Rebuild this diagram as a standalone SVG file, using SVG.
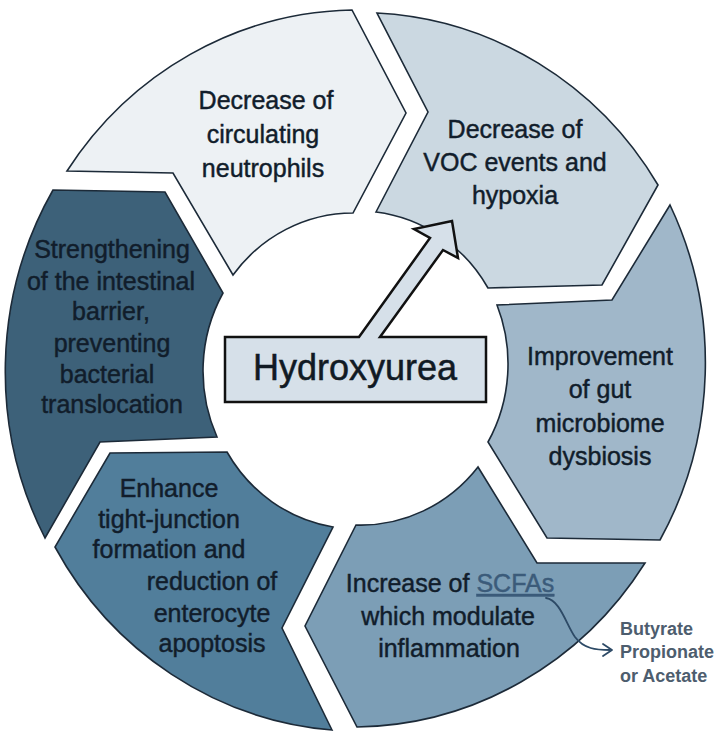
<svg xmlns="http://www.w3.org/2000/svg" width="720" height="738" viewBox="0 0 720 738">
<style>
.seg{stroke:#1c2a38;stroke-width:1.6;stroke-linejoin:miter}
.lbl{font-family:"Liberation Sans",Arial,sans-serif;font-size:25px;fill:#111d2b;stroke:#111d2b;stroke-width:0.45;text-anchor:middle}
.side{font-family:"Liberation Sans",Arial,sans-serif;font-size:18px;font-weight:bold;fill:#4d5d6e}
</style>
<rect width="720" height="738" fill="#ffffff"/>
<g id="seg1">
<path class="seg" fill="#edf1f4" d="M67,171 A350,360 0 0 1 352,10 L406,113 L353,213 A151,157 0 0 0 233,275 L173,173 Z"/>
<text class="lbl"><tspan x="266" y="109">Decrease of</tspan><tspan x="263" y="143">circulating</tspan><tspan x="263" y="177">neutrophils</tspan></text>
</g>
<g id="seg2">
<path class="seg" fill="#cbd8e1" d="M377,13 A350,360 0 0 1 658,185 L602,285 L488,288 A151,157 0 0 0 376,212 L428,112 Z"/>
<text class="lbl"><tspan x="515" y="138">Decrease of</tspan><tspan x="515" y="171">VOC events and</tspan><tspan x="515" y="204">hypoxia</tspan></text>
</g>
<g id="seg3">
<path class="seg" fill="#a0b7c9" d="M670,205 A350,360 0 0 1 660,540 L547,538 L488,442 A151,157 0 0 0 497,305 L612,300 Z"/>
<text class="lbl"><tspan x="600" y="365">Improvement</tspan><tspan x="600" y="398">of gut</tspan><tspan x="600" y="432">microbiome</tspan><tspan x="600" y="465">dysbiosis</tspan></text>
</g>
<g id="seg4">
<path class="seg" fill="#7c9eb6" d="M645,563 A350,360 0 0 1 357,727 L305,626 L356,525 A151,157 0 0 0 478,467 L537,563 Z"/>
<text class="lbl"><tspan x="450" y="592">Increase of <tspan fill="#3b5b7a" stroke="#3b5b7a" text-decoration="underline">SCFAs</tspan></tspan><tspan x="448" y="625">which modulate</tspan><tspan x="449" y="657">inflammation</tspan></text>
</g>
<g id="seg5">
<path class="seg" fill="#517e9b" d="M332,730 A350,360 0 0 1 55,547 L110,453 L227,452 A151,157 0 0 0 333,527 L282,628 Z"/>
<text class="lbl"><tspan x="169" y="497">Enhance</tspan><tspan x="169" y="528">tight-junction</tspan><tspan x="169" y="558">formation and</tspan><tspan x="212" y="590">reduction of</tspan><tspan x="212" y="622">enterocyte</tspan><tspan x="212" y="652">apoptosis</tspan></text>
</g>
<g id="seg6">
<path class="seg" fill="#3d6179" d="M45,538 A350,360 0 0 1 53,190 L165,192 L223,293 A151,157 0 0 0 217,437 L100,442 Z"/>
<text class="lbl"><tspan x="112" y="258">Strengthening</tspan><tspan x="111" y="290">of the intestinal</tspan><tspan x="111" y="320">barrier,</tspan><tspan x="112" y="352">preventing</tspan><tspan x="107" y="383">bacterial</tspan><tspan x="112" y="413">translocation</tspan></text>
</g>
<g id="hydroxyurea">
<path fill="#d6e0e9" stroke="#111111" stroke-width="2.5" stroke-linejoin="miter" d="M225,337 L359,337 L430,238 L414,229 L452,221 L458,258 L443,250 L380,337 L486,337 L486,402 L225,402 Z"/>
<text x="355" y="380" font-family="Liberation Sans, Arial, sans-serif" font-size="36" fill="#111a24" stroke="#111a24" stroke-width="0.5" text-anchor="middle">Hydroxyurea</text>
</g>
<g id="connectors" fill="none" stroke="#2d4a66" stroke-width="1.8" stroke-linecap="round" stroke-linejoin="round">
<path d="M546,598 C560,600 566,624 575,637 C584,649 596,650 610,650"/>
<path d="M603,644 L612,650 L603,656"/>
</g>
<g id="side-note">
<text class="side"><tspan x="620" y="635">Butyrate</tspan><tspan x="620" y="658">Propionate</tspan><tspan x="620" y="682">or Acetate</tspan></text>
</g>
</svg>
